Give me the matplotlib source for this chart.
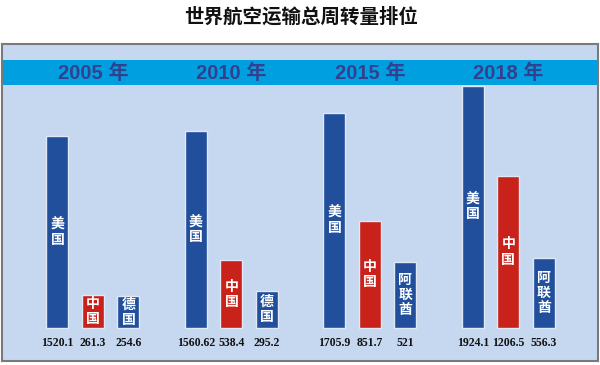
import matplotlib.pyplot as plt
from matplotlib.patches import Rectangle

plt.rcParams['font.family'] = ['Noto Sans CJK SC', 'DejaVu Sans']

# --------------------------------------------------
# Data
# --------------------------------------------------
title = '世界航空运输总周转量排位'
years = ['2005 年', '2010 年', '2015 年', '2018 年']
countries = [['美国', '中国', '德国'],
             ['美国', '中国', '德国'],
             ['美国', '中国', '阿联酋'],
             ['美国', '中国', '阿联酋']]
values = [[1520.1, 261.3, 254.6],
          [1560.62, 538.4, 295.2],
          [1705.9, 851.7, 521],
          [1924.1, 1206.5, 556.3]]
value_labels = [['1520.1', '261.3', '254.6'],
                ['1560.62', '538.4', '295.2'],
                ['1705.9', '851.7', '521'],
                ['1924.1', '1206.5', '556.3']]

# --------------------------------------------------
# Style
# --------------------------------------------------
blue = '#214f9c'
red = '#c8221a'
panel_bg = '#c6d8f0'
band_col = '#00a0e0'
year_col = '#33408f'
bar_cols = [blue, red, blue]
group_gap = 3.9

fig = plt.figure(figsize=(6, 3.65), dpi=100)
fig.patch.set_facecolor('white')

fig.text(0.502, 0.953, title, ha='center', va='center', fontsize=14,
         fontweight='bold', color='#111111')

ax = fig.add_axes([2 / 600, 4 / 365, 596 / 600, 317 / 365])
ax.set_facecolor(panel_bg)
ax.set_xlim(-1.563, 15.225)
ax.set_ylim(-262, 2254)
ax.set_xticks([])
ax.set_yticks([])
for spine in ax.spines.values():
    spine.set_color('#7a7a7a')
    spine.set_linewidth(1.5)

# year band
ax.add_patch(Rectangle((0, 0.871), 1, 0.079, transform=ax.transAxes,
                       facecolor=band_col, edgecolor='none', zorder=1))

for g, (yr, names, vals, labs) in enumerate(zip(years, countries, values, value_labels)):
    xs = [g * group_gap + j for j in range(3)]
    ax.bar(xs, vals, width=0.62, color=bar_cols, edgecolor='#dfe8f6',
           linewidth=1.0, zorder=2)
    ax.text(xs[1], 0.9085, yr, transform=ax.get_xaxis_transform(),
            ha='center', va='center', fontsize=14.5, fontweight='bold',
            color=year_col, family=['Liberation Sans', 'Noto Sans CJK SC'],
            zorder=3)
    for x, v, name, lab in zip(xs, vals, names, labs):
        ax.text(x, v / 2, '\n'.join(name), ha='center', va='center',
                fontsize=10, fontweight='bold', color='white',
                linespacing=1.1, zorder=3)
        ax.annotate(lab, xy=(x, 0), xytext=(0, -11), textcoords='offset points',
                    ha='center', va='center', fontsize=8.5, fontweight='bold',
                    family=['Liberation Serif', 'DejaVu Serif'], color='#111111')

fig.savefig('out.png', dpi=100, facecolor='white')
